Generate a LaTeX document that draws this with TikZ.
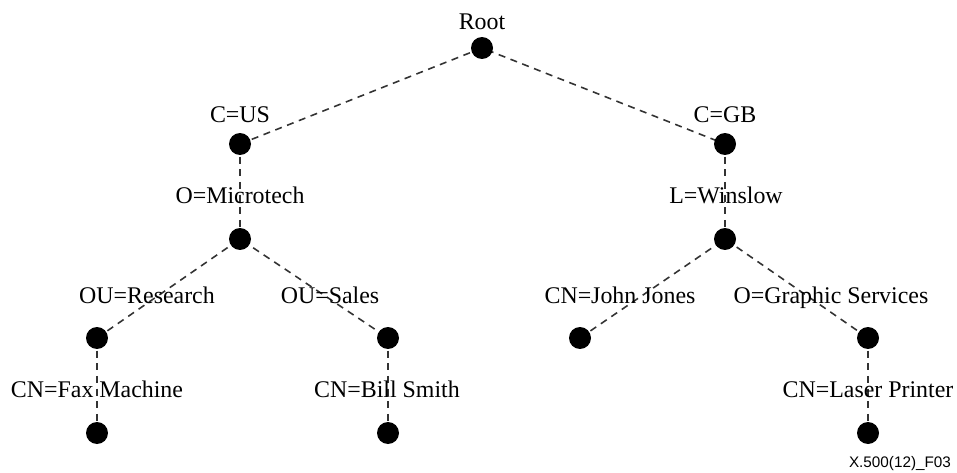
\documentclass[tikz,border=0pt]{standalone}
\usepackage{fontspec}
\setmainfont{Liberation Serif}
\setsansfont{Liberation Sans}
\begin{document}
\begin{tikzpicture}[x=0.02cm,y=-0.02cm,
    treeline/.style={dash pattern=on 4pt off 3.2pt,line width=0.9pt,black!80},
    lbl/.style={anchor=base,inner sep=0pt,font=\fontsize{13.6}{16}\selectfont}]
    \useasboundingbox (0,0) rectangle (957,473);

    \coordinate (Root) at (482,48); %根
    \coordinate (US) at (240,144);
    \coordinate (GB) at (725,144);
    \coordinate (Micro) at (240,239);
    \coordinate (Wins) at (725,239);
    \coordinate (Res) at (97,338);
    \coordinate (Sales) at (388,338);
    \coordinate (John) at (580,338);
    \coordinate (Graph) at (868,338);
    \coordinate (Fax) at (97,433);
    \coordinate (Bill) at (388,433);
    \coordinate (Laser) at (868,433);

    % 破線
    \draw[treeline] (US) -- (Root) -- (GB);
    \draw[treeline] (US) -- (Micro);
    \draw[treeline] (Res) -- (Micro) -- (Sales);
    \draw[treeline] (Res) -- (Fax);
    \draw[treeline] (Sales) -- (Bill);
    \draw[treeline] (GB) -- (Wins);
    \draw[treeline] (John) -- (Wins) -- (Graph);
    \draw[treeline] (Graph) -- (Laser);

    \foreach \P in {Root,US,GB,Micro,Wins,Res,Sales,John,Graph,Fax,Bill,Laser} \fill[black] (\P) circle (0.22cm); %黒丸

    % ラベル
    \node[lbl] (lRoot) at (482,30) {Root};
    \node[lbl] (lUS) at (240,123) {C=US};
    \node[lbl] (lGB) at (725,123) {C=GB};
    \node[lbl] (lMicro) at (240,203) {O=Microtech};
    \node[lbl] (lWins) at (726,203) {L=Winslow};
    \node[lbl] (lRes) at (147,303) {OU=Research};
    \node[lbl] (lSales) at (330,303) {OU=Sales};
    \node[lbl] (lJohn) at (620,303) {CN=John Jones};
    \node[lbl] (lGraph) at (831,303) {O=Graphic Services};
    \node[lbl] (lFax) at (97,397) {CN=Fax Machine};
    \node[lbl] (lBill) at (387,397) {CN=Bill Smith};
    \node[lbl] (lLaser) at (868,397) {CN=Laser Printer};
    \node[anchor=base,inner sep=0pt,font=\sffamily\fontsize{8.7}{10}\selectfont] (fig) at (900,467) {X.500(12)\_F03};

\end{tikzpicture}
\end{document}
